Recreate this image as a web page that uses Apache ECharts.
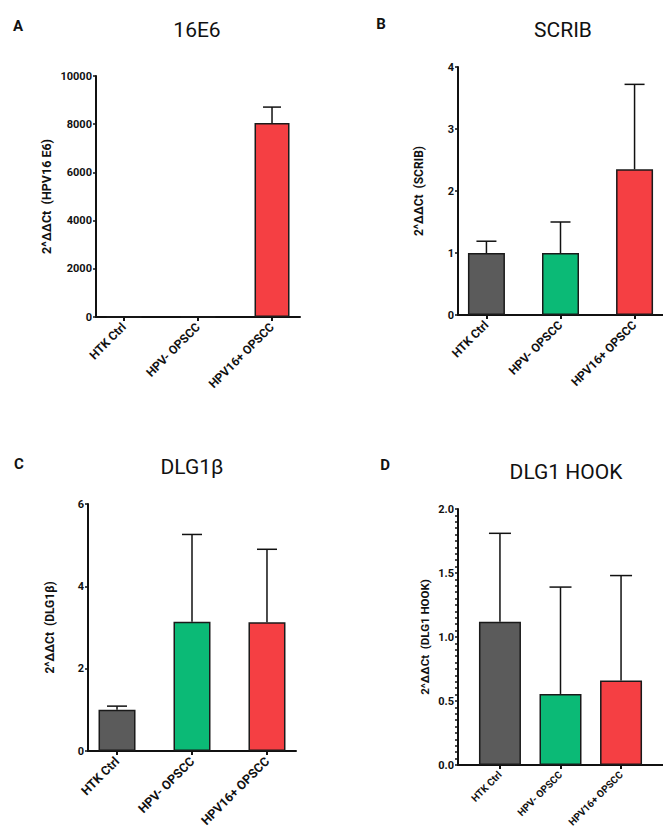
<!DOCTYPE html>
<html>
<head>
<meta charset="utf-8">
<script src="https://cdn.jsdelivr.net/npm/echarts@6/dist/echarts.min.js"></script>
<style>
  html, body { margin: 0; padding: 0; background: #fff; }
  #chart { width: 663px; height: 831px; }
</style>
</head>
<body>
<div id="chart"></div>
<script>
// groups on the x axis
var categories = ['HTK Ctrl', 'HPV- OPSCC', 'HPV16+ OPSCC'];

// mean and upper error (SD)
var e6Mean = [1, 1, 8050];
var e6Err = [0, 0, 660];
var scribMean = [1.0, 1.0, 2.35];
var scribErr = [0.19, 0.5, 1.37];
var dlgbMean = [1.0, 3.14, 3.13];
var dlgbErr = [0.09, 2.12, 1.77];
var hookMean = [1.12, 0.555, 0.66];
var hookErr = [0.69, 0.835, 0.82];

var panelLetters = ['A', 'B', 'C', 'D'];
var panelTitles = ['16E6', 'SCRIB', 'DLG1\u03b2', 'DLG1 HOOK'];
var yNames = ['2^\u0394\u0394Ct  (HPV16 E6)', '2^\u0394\u0394Ct  (SCRIB)', '2^\u0394\u0394Ct  (DLG1\u03b2)', '2^\u0394\u0394Ct  (DLG1 HOOK)'];
var yMax = [10000, 4, 6, 2];
var yStep = [2000, 1, 2, 0.5];

var barColors = ['#5b5b5b', '#0bba76', '#f53f43'];
var FONT = "Roboto, 'DejaVu Sans', sans-serif";

// layout of each panel (pixels) -- x range in category units
var panels = [
  { means: e6Mean, errs: e6Err, left: 96, top: 76, width: 204, height: 241, xmin: -0.378, xmax: 2.378, barW: 35, cap: 9, gap: 43, xFont: 12, nameFont: 12.5, titleX: 197, titleY: 30, letterX: 18, letterY: 26 },
  { means: scribMean, errs: scribErr, left: 458, top: 67, width: 209, height: 248, xmin: -0.384, xmax: 2.384, barW: 37, cap: 10, gap: 33, xFont: 12, nameFont: 12, titleX: 563, titleY: 30, letterX: 381, letterY: 24 },
  { means: dlgbMean, errs: dlgbErr, left: 88, top: 504, width: 208, height: 247, xmin: -0.387, xmax: 2.387, barW: 37, cap: 10, gap: 32, xFont: 12.5, nameFont: 12, titleX: 192, titleY: 467, letterX: 19, letterY: 464 },
  { means: hookMean, errs: hookErr, left: 458, top: 509, width: 215, height: 256, xmin: -0.693, xmax: 2.693, barW: 42, cap: 11, gap: 27, xFont: 10, nameFont: 11.5, titleX: 566, titleY: 472, letterX: 385, letterY: 465 }
];

var grids = [], xAxes = [], yAxes = [], series = [], graphics = [];

panels.forEach(function (p, i) {
  grids.push({ left: p.left, top: p.top, width: p.width, height: p.height });

  xAxes.push({
    type: 'value', gridIndex: i, min: p.xmin, max: p.xmax,
    splitLine: { show: false },
    axisLine: { show: true, onZero: false, lineStyle: { color: '#111', width: 2 } },
    axisTick: { show: true, customValues: [0, 1, 2], length: 4, lineStyle: { color: '#111', width: 2 } },
    axisLabel: {
      customValues: [0, 1, 2], rotate: 45, margin: 8,
      fontFamily: FONT, fontSize: p.xFont, fontWeight: 'bold', color: '#111',
      formatter: function (v) { return categories[Math.round(v)]; }
    }
  });

  yAxes.push({
    type: 'value', gridIndex: i, min: 0, max: yMax[i], interval: yStep[i],
    name: yNames[i], nameLocation: 'middle', nameGap: p.gap, nameRotate: 90,
    nameTextStyle: { fontFamily: FONT, fontSize: p.nameFont, fontWeight: 'bold', color: '#111' },
    splitLine: { show: false },
    axisLine: { show: true, onZero: false, lineStyle: { color: '#111', width: 2 } },
    axisTick: { show: true, length: 3, lineStyle: { color: '#111', width: 1.5 } },
    minorTick: { show: i === 3, splitNumber: 10, length: 3, lineStyle: { color: '#111', width: 1.5 } },
    axisLabel: {
      margin: 4, fontFamily: FONT, fontSize: 11, fontWeight: 'bold', color: '#111',
      formatter: i === 3 ? function (v) { return v.toFixed(1); } : function (v) { return String(v); }
    }
  });

  series.push({
    type: 'bar', xAxisIndex: i, yAxisIndex: i, barWidth: p.barW,
    data: p.means.map(function (v, k) {
      return { value: [k, v], itemStyle: { color: barColors[k], borderColor: '#1a1a1a', borderWidth: 1.5 } };
    }),
    z: 2
  });

  series.push({
    type: 'custom', xAxisIndex: i, yAxisIndex: i, z: 3,
    data: p.means.map(function (v, k) { return [k, v, p.errs[k]]; }),
    renderItem: (function (cap) {
      return function (params, api) {
        var x = api.value(0), y = api.value(1), e = api.value(2);
        if (!e) return null;
        var a = api.coord([x, y]);
        var b = api.coord([x, y + e]);
        var st = { stroke: '#111', lineWidth: 1.5 };
        return {
          type: 'group',
          children: [
            { type: 'line', shape: { x1: a[0], y1: a[1], x2: b[0], y2: b[1] }, style: st },
            { type: 'line', shape: { x1: b[0] - cap, y1: b[1], x2: b[0] + cap, y2: b[1] }, style: st }
          ]
        };
      };
    })(p.cap)
  });

  graphics.push({
    type: 'text', x: p.titleX, y: p.titleY,
    style: { text: panelTitles[i], fontFamily: FONT, fontSize: 21, fill: '#111', align: 'center', verticalAlign: 'middle' }
  });
  graphics.push({
    type: 'text', x: p.letterX, y: p.letterY,
    style: { text: panelLetters[i], fontFamily: FONT, fontSize: 15, fontWeight: 'bold', fill: '#111', align: 'center', verticalAlign: 'middle' }
  });
});

var chart = echarts.init(document.getElementById('chart'), null, { renderer: 'svg' });
chart.setOption({
  animation: false,
  backgroundColor: '#fff',
  grid: grids,
  xAxis: xAxes,
  yAxis: yAxes,
  series: series,
  graphic: graphics
});
</script>
</body>
</html>
